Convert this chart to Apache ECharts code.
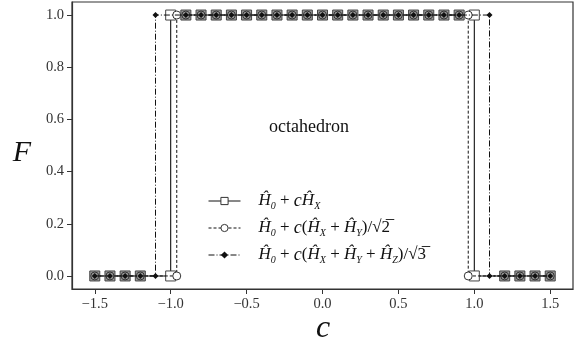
<!DOCTYPE html>
<html>
<head>
<meta charset="utf-8">
<script src="https://cdn.jsdelivr.net/npm/echarts@6/dist/echarts.min.js"></script>
<style>
  html, body { margin: 0; padding: 0; background: #fff; }
  #chart { width: 578px; height: 347px; }
</style>
</head>
<body>
<div id="chart"></div>
<script>
// tick labels
var xTicks = [-1.5, -1.0, -0.5, 0.0, 0.5, 1.0, 1.5];
var yTicks = [0.0, 0.2, 0.4, 0.6, 0.8, 1.0];

// H0 + c Hx  (squares)
var cSquare = [-1.5, -1.4, -1.3, -1.2, -1.0, -1.0, -0.9, -0.8, -0.7, -0.6, -0.5, -0.4, -0.3, -0.2, -0.1, 0.0,
  0.1, 0.2, 0.3, 0.4, 0.5, 0.6, 0.7, 0.8, 0.9, 1.0, 1.0, 1.2, 1.3, 1.4, 1.5];
var fSquare = [0, 0, 0, 0, 0, 1, 1, 1, 1, 1, 1, 1, 1, 1, 1, 1,
  1, 1, 1, 1, 1, 1, 1, 1, 1, 1, 0, 0, 0, 0, 0];

// H0 + c(Hx+Hy)/sqrt2  (circles)
var cCircle = [-1.5, -1.4, -1.3, -1.2, -0.96, -0.96, -0.9, -0.8, -0.7, -0.6, -0.5, -0.4, -0.3, -0.2, -0.1, 0.0,
  0.1, 0.2, 0.3, 0.4, 0.5, 0.6, 0.7, 0.8, 0.9, 0.96, 0.96, 1.2, 1.3, 1.4, 1.5];
var fCircle = [0, 0, 0, 0, 0, 1, 1, 1, 1, 1, 1, 1, 1, 1, 1, 1,
  1, 1, 1, 1, 1, 1, 1, 1, 1, 1, 0, 0, 0, 0, 0];

// H0 + c(Hx+Hy+Hz)/sqrt3  (diamonds)
var cDiamond = [-1.5, -1.4, -1.3, -1.2, -1.1, -1.1, -0.9, -0.8, -0.7, -0.6, -0.5, -0.4, -0.3, -0.2, -0.1, 0.0,
  0.1, 0.2, 0.3, 0.4, 0.5, 0.6, 0.7, 0.8, 0.9, 1.1, 1.1, 1.2, 1.3, 1.4, 1.5];
var fDiamond = [0, 0, 0, 0, 0, 1, 1, 1, 1, 1, 1, 1, 1, 1, 1, 1,
  1, 1, 1, 1, 1, 1, 1, 1, 1, 1, 0, 0, 0, 0, 0];

var serif = '"Liberation Serif", "DejaVu Serif", serif';

function pairs(xs, ys) {
  var out = [];
  for (var i = 0; i < xs.length; i++) out.push([xs[i], ys[i]]);
  return out;
}

// markers where all three curves coincide look grey (overlap), the lone ones stay white
function shared(x) {
  return cSquare.indexOf(x) >= 0 && cCircle.indexOf(x) >= 0 && cDiamond.indexOf(x) >= 0;
}
function fillFor(params) {
  return shared(params.data[0]) ? '#9a9a9a' : '#fff';
}

var legendText = {
  sq: '{h|Ĥ}{s|0}{n| + }{i|c}{h|Ĥ}{s|X}',
  ci: '{h|Ĥ}{s|0}{n| + }{i|c}{n|(}{h|Ĥ}{s|X}{n| + }{h|Ĥ}{s|Y}{n|)/√2\u0305}',
  di: '{h|Ĥ}{s|0}{n| + }{i|c}{n|(}{h|Ĥ}{s|X}{n| + }{h|Ĥ}{s|Y}{n| + }{h|Ĥ}{s|Z}{n|)/√3\u0305}'
};

var myChart = echarts.init(document.getElementById('chart'));
myChart.setOption({
  animation: false,
  grid: {
    left: 72, right: 5, top: 2, bottom: 58,
    outerBoundsMode: 'none', containLabel: false,
    show: true, borderColor: '#333', borderWidth: 1.2, backgroundColor: 'transparent'
  },
  graphic: [
    { type: 'text', left: 269, top: 118, style: { text: 'octahedron', font: '18px ' + serif, fill: '#111' } },
    { type: 'text', x: 22, y: 153, style: { text: 'F', font: 'italic 30px ' + serif, fill: '#111', align: 'center', verticalAlign: 'middle' } },
    { type: 'text', x: 323, y: 329, style: { text: 'c', font: 'italic 32px ' + serif, fill: '#111', align: 'center', verticalAlign: 'middle' } }
  ],
  legend: {
    orient: 'vertical',
    left: 203, top: 187,
    itemWidth: 32, itemHeight: 9, itemGap: 8,
    data: [
      { name: 'sq', itemStyle: { color: '#fff', borderColor: '#333', borderWidth: 1 } },
      { name: 'ci', itemStyle: { color: '#fff', borderColor: '#333', borderWidth: 1 } },
      { name: 'di', itemStyle: { color: '#111', borderWidth: 0 } }
    ],
    formatter: function (name) { return legendText[name]; },
    lineStyle: { width: 1 },
    textStyle: {
      padding: [0, 0, 0, 13],
      rich: {
        h: { fontFamily: serif, fontStyle: 'italic', fontSize: 17, color: '#111', lineHeight: 20 },
        i: { fontFamily: serif, fontStyle: 'italic', fontSize: 18, color: '#111', lineHeight: 20 },
        n: { fontFamily: serif, fontSize: 17, color: '#111', lineHeight: 20 },
        s: { fontFamily: serif, fontStyle: 'italic', fontSize: 10, color: '#111', lineHeight: 12, verticalAlign: 'bottom', padding: [6, 0, 0, 0] }
      }
    }
  },
  xAxis: {
    type: 'value', min: -1.65, max: 1.65,
    axisLine: { onZero: false, lineStyle: { color: '#333', width: 1.2 } },
    axisTick: { show: true, length: 5, lineStyle: { color: '#333' }, customValues: xTicks },
    axisLabel: {
      fontFamily: serif, fontSize: 14.5, color: '#333', margin: 8, customValues: xTicks,
      formatter: function (v) { return (v < 0 ? '\u2212' : '') + Math.abs(v).toFixed(1); }
    },
    splitLine: { show: false }
  },
  yAxis: {
    type: 'value', min: -0.05, max: 1.05,
    axisLine: { show: true, onZero: false, lineStyle: { color: '#333', width: 1.2 } },
    axisTick: { show: true, length: 5, lineStyle: { color: '#333' }, customValues: yTicks },
    axisLabel: {
      fontFamily: serif, fontSize: 14.5, color: '#333', margin: 8, customValues: yTicks,
      formatter: function (v) { return v.toFixed(1); }
    },
    splitLine: { show: false }
  },
  series: [
    {
      name: 'sq', type: 'line', data: pairs(cSquare, fSquare),
      symbol: 'rect', symbolSize: 10, z: 2,
      lineStyle: { color: '#111', width: 1.1, type: 'solid' },
      itemStyle: { color: fillFor, borderColor: '#444', borderWidth: 1 }
    },
    {
      name: 'ci', type: 'line', data: pairs(cCircle, fCircle),
      symbol: 'circle', symbolSize: 8, z: 3,
      lineStyle: { color: '#111', width: 1, type: [3, 2] },
      itemStyle: { color: fillFor, borderColor: '#333', borderWidth: 1 }
    },
    {
      name: 'di', type: 'line', data: pairs(cDiamond, fDiamond),
      symbol: 'diamond', symbolSize: 6, z: 4,
      lineStyle: { color: '#111', width: 1, type: [6, 2, 1, 2] },
      itemStyle: { color: '#111', borderColor: '#111', borderWidth: 0 }
    }
  ]
});
</script>
</body>
</html>
